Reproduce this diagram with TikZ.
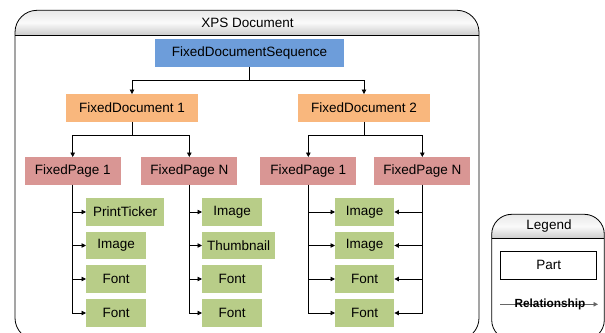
\documentclass[tikz,border=0pt]{standalone}
\usepackage{fontspec}
\setmainfont{Liberation Sans}
\usetikzlibrary{arrows.meta}
\definecolor{seqblue}{HTML}{6D9DDA}
\definecolor{docorange}{HTML}{F9B77D}
\definecolor{pagered}{HTML}{D99694}
\definecolor{partgreen}{HTML}{B8CD88}
\newcommand{\boxh}{27.5pt}
\newcommand{\boxfont}{\fontsize{13.5}{15}\selectfont}

\begin{document}
\begin{tikzpicture}[x=1pt,y=-1pt,
    seqbox/.style={fill=seqblue},
    docbox/.style={fill=docorange,minimum width=132pt},
    pagebox/.style={fill=pagered,minimum width=96pt},
    partbox/.style={fill=partgreen,anchor=west,minimum width=60pt},
    frame/.style={draw=black,line width=0.8pt,rounded corners=22pt}]
            \clip (0,0) rectangle (605,332);

            % containers
            \begin{scope}
                \clip[rounded corners=22pt] (15,10.3) rectangle (479,340);
                \shade[top color=gray!18,bottom color=gray!40,middle color=gray!4] (15,10.3) rectangle (479,35);
            \end{scope}
            \draw[frame] (15,10.3) rectangle (479,340);
            \draw[line width=0.8pt] (15,35) -- (479,35);
            \node[font=\boxfont] (xps) at (247.5,23) {XPS Document};

            \begin{scope}
                \clip[rounded corners=20pt] (491.7,214.3) rectangle (604.3,340);
                \shade[top color=gray!18,bottom color=gray!40,middle color=gray!4] (491.7,214.3) rectangle (604.3,238.3);
            \end{scope}
            \draw[frame,rounded corners=20pt] (491.7,214.3) rectangle (604.3,340);
            \draw[line width=0.8pt] (491.7,238.3) -- (604.3,238.3);
            \node[font=\boxfont] (legend) at (549,226.3) {Legend};

            \begin{scope}[every node/.style={minimum height=\boxh,inner sep=0pt,font=\boxfont}]
                \node[seqbox,minimum width=189pt] (fds) at (249.5,53) {FixedDocumentSequence};
                \node[docbox] (fd1) at (132,108) {FixedDocument 1};
                \node[docbox] (fd2) at (364,108) {FixedDocument 2};
                \node[pagebox] (pa1) at (72.7,171) {FixedPage 1};
                \node[pagebox] (paN) at (189.3,171) {FixedPage N};
                \node[pagebox] (pb1) at (308.3,171) {FixedPage 1};
                \node[pagebox] (pbN) at (422.3,171) {FixedPage N};

                \node[partbox,minimum width=78pt] (a1) at (86,212) {PrintTicker};
                \node[partbox] (a2) at (86,245.5) {Image};
                \node[partbox] (a3) at (86,279) {Font};
                \node[partbox] (a4) at (86,313) {Font};

                \node[partbox] (b1) at (202,212) {Image};
                \node[partbox,minimum width=73pt] (b2) at (202,245.5) {Thumbnail};
                \node[partbox] (b3) at (202,279) {Font};
                \node[partbox] (b4) at (202,313) {Font};

                \node[partbox,minimum width=59pt] (c1) at (335,212) {Image};
                \node[partbox,minimum width=59pt] (c2) at (335,245.5) {Image};
                \node[partbox,minimum width=59pt] (c3) at (335,279) {Font};
                \node[partbox,minimum width=59pt] (c4) at (335,313) {Font};

                \node[draw=black,line width=0.8pt,fill=white,minimum width=96pt] (part) at (548.7,265.3) {Part};
            \end{scope}

            \begin{scope}[>={Triangle[length=4.5pt,width=4.5pt]},
                every edge/.style={draw=black,line width=0.8pt},
                elbow/.style={to path={-- ++(0,13) -| (\tikztotarget)}},
                branch/.style={to path={|- (\tikztotarget)}}]
                \path [->] (fds.south) edge[elbow] (fd1.north);
                \path [->] (fds.south) edge[elbow] (fd2.north);
                \path [->] (fd1.south) edge[elbow] (pa1.north);
                \path [->] (fd1.south) edge[elbow] (paN.north);
                \path [->] (fd2.south) edge[elbow] (pb1.north);
                \path [->] (fd2.south) edge[elbow] (pbN.north);
                \foreach \k in {a1,a2,a3,a4} {
                    \path [->] (pa1.south) edge[branch] (\k.west);
                }
                \foreach \k in {b1,b2,b3,b4} {
                    \path [->] (paN.south) edge[branch] (\k.west);
                }
                \foreach \k in {c1,c2,c3,c4} {
                    \path [->] (pb1.south) edge[branch] (\k.west);
                    \path [->] (pbN.south) edge[branch] (\k.east);
                }

                % legend relationship
                \coordinate (rels) at (500,304.3);
                \coordinate (rele) at (598,304.3);
                \path [->] (rels) edge[draw=black!60] (rele);
            \end{scope}
            \node[font=\fontsize{11.8}{13}\selectfont\bfseries,inner sep=0pt] (rel) at (550,304.3) {Relationship};
\end{tikzpicture}
\end{document}
